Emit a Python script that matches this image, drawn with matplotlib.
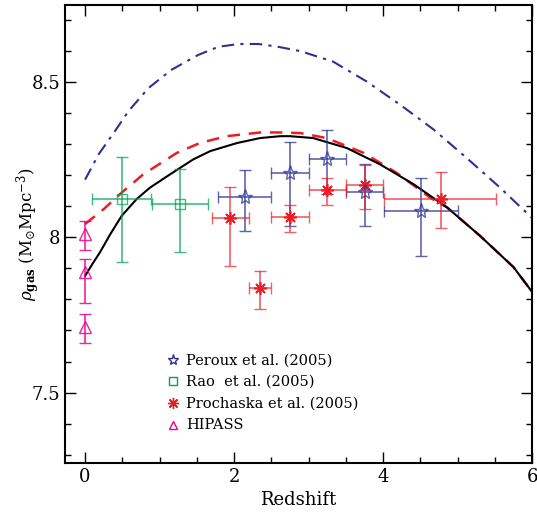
import matplotlib
matplotlib.use("Agg")
import matplotlib.pyplot as plt
from matplotlib.ticker import MultipleLocator

plt.rcParams['font.family'] = ['DejaVu Serif']
plt.rcParams['mathtext.fontset'] = 'dejavuserif'

# model curves
z_solid = [0.0, 0.1, 0.2, 0.34, 0.49, 0.69, 0.87, 1.14, 1.45, 1.68, 2.04, 2.35, 2.62, 2.75, 3.06,
           3.51, 3.96, 4.41, 4.86, 5.30, 5.75, 6.0]
rho_solid = [7.876, 7.915, 7.952, 8.011, 8.069, 8.123, 8.160, 8.203, 8.251, 8.278, 8.304, 8.320,
             8.326, 8.326, 8.320, 8.288, 8.235, 8.171, 8.096, 8.005, 7.904, 7.824]

z_dash = [0.0, 0.25, 0.49, 0.78, 1.23, 1.54, 1.90, 2.35, 2.62, 2.89, 3.24, 3.74, 4.18, 4.63,
          4.86, 5.30, 5.75, 6.0]
rho_dash = [8.043, 8.091, 8.144, 8.203, 8.272, 8.304, 8.326, 8.338, 8.338, 8.336, 8.320, 8.272,
            8.208, 8.128, 8.096, 8.005, 7.904, 7.824]

z_dot = [0.0, 0.18, 0.40, 0.58, 0.85, 1.16, 1.52, 1.79, 2.06, 2.33, 2.59, 2.89, 3.33, 3.78,
         4.23, 4.68, 5.12, 5.57, 6.0]
rho_dot = [8.186, 8.267, 8.342, 8.406, 8.481, 8.540, 8.588, 8.614, 8.623, 8.623, 8.614, 8.600,
           8.566, 8.502, 8.427, 8.347, 8.256, 8.160, 8.062]

# Peroux et al. (2005)
per_z = [2.14, 2.75, 3.25, 3.75, 4.51]
per_zlo = [0.36, 0.25, 0.25, 0.25, 0.50]
per_zhi = [0.36, 0.25, 0.25, 0.25, 0.50]
per_rho = [8.130, 8.206, 8.253, 8.146, 8.084]
per_lo = [0.109, 0.170, 0.114, 0.109, 0.143]
per_hi = [0.087, 0.100, 0.092, 0.089, 0.107]

# Rao et al. (2005)
rao_z = [0.49, 1.27]
rao_zlo = [0.40, 0.375]
rao_zhi = [0.40, 0.375]
rao_rho = [8.123, 8.107]
rao_lo = [0.203, 0.153]
rao_hi = [0.135, 0.114]

# Prochaska et al. (2005)
pro_z = [1.95, 2.35, 2.75, 3.25, 3.75, 4.77]
pro_zlo = [0.25, 0.145, 0.25, 0.25, 0.25, 0.76]
pro_zhi = [0.25, 0.145, 0.25, 0.25, 0.25, 0.75]
pro_rho = [8.061, 7.837, 8.064, 8.152, 8.168, 8.123]
pro_lo = [0.154, 0.067, 0.048, 0.048, 0.078, 0.093]
pro_hi = [0.102, 0.056, 0.040, 0.040, 0.065, 0.087]

# HIPASS
hip_z = [0.0, 0.0, 0.0]
hip_rho = [8.011, 7.890, 7.712]
hip_lo = [0.051, 0.100, 0.051]
hip_hi = [0.042, 0.040, 0.040]

blue = '#2e3192'
green = '#00a651'
red = '#ed1c24'
pink = '#ec008c'

fig = plt.figure(figsize=(5.37, 5.2), dpi=100)
ax = fig.add_axes([0.121, 0.1096, 0.870, 0.8804])

ax.plot(z_dot, rho_dot, color=blue, lw=1.5, dashes=[6, 3, 1.5, 3])
ax.plot(z_dash, rho_dash, color=red, lw=1.8, dashes=[5, 3.5])
ax.plot(z_solid, rho_solid, color='black', lw=1.5)

ax.errorbar(rao_z, rao_rho, xerr=[rao_zlo, rao_zhi], yerr=[rao_lo, rao_hi], fmt='s',
            ms=7, mfc='none', mec=green, mew=1.0, ecolor=green, elinewidth=1.2,
            capsize=4, alpha=0.75)
ax.errorbar(per_z, per_rho, xerr=[per_zlo, per_zhi], yerr=[per_lo, per_hi], fmt='*',
            ms=11, mfc='none', mec=blue, mew=1.0, ecolor=blue, elinewidth=1.2,
            capsize=4, alpha=0.75)
ax.errorbar(pro_z, pro_rho, xerr=[pro_zlo, pro_zhi], yerr=[pro_lo, pro_hi], fmt='none',
            ecolor=red, elinewidth=1.2, capsize=4, alpha=0.7)
ax.plot(pro_z, pro_rho, ls='none', marker=(8, 2, 0), ms=9, mec=red, mew=1.2)
ax.errorbar(hip_z, hip_rho, yerr=[hip_lo, hip_hi], fmt='^', ms=8, mfc='none', mec=pink,
            mew=1.0, ecolor=pink, elinewidth=1.2, capsize=4, alpha=0.85)

# legend drawn by hand
leg_labels = ['Peroux et al. (2005)', 'Rao  et al. (2005)', 'Prochaska et al. (2005)', 'HIPASS']
leg_markers = ['*', 's', (8, 2, 0), '^']
leg_colors = [blue, green, red, pink]
leg_y = [7.604, 7.536, 7.465, 7.395]
for lab, mk, col, yy in zip(leg_labels, leg_markers, leg_colors, leg_y):
    if mk == (8, 2, 0):
        ax.plot([1.185], [yy], ls='none', marker=mk, ms=8, mec=col, mew=1.0)
    else:
        ax.plot([1.185], [yy], ls='none', marker=mk, ms=8 if mk == '*' else 6,
                mfc='none', mec=col, mew=1.0)
    ax.text(1.36, yy, lab, fontsize=10.5, va='center', ha='left')

ax.set_xlim(-0.27, 6.0)
ax.set_ylim(7.273, 8.748)
ax.xaxis.set_major_locator(MultipleLocator(2))
ax.xaxis.set_minor_locator(MultipleLocator(0.5))
ax.yaxis.set_major_locator(MultipleLocator(0.5))
ax.yaxis.set_minor_locator(MultipleLocator(0.1))
ax.tick_params(which='both', direction='in', top=True, right=True, labelsize=13, width=1.0)
ax.tick_params(which='major', length=8)
ax.tick_params(which='minor', length=4)
ax.yaxis.set_major_formatter(matplotlib.ticker.FuncFormatter(lambda v, p: f"{v:g}"))
for s in ax.spines.values():
    s.set_linewidth(1.5)

ax.set_xlabel('Redshift', fontsize=13)
ax.set_ylabel(r'$\rho_{\mathbf{gas}}$ (M$_{\odot}$Mpc$^{-3}$)', fontsize=12)
ax.yaxis.set_label_coords(-0.05, 0.5)

fig.savefig('out.png', dpi=100)
